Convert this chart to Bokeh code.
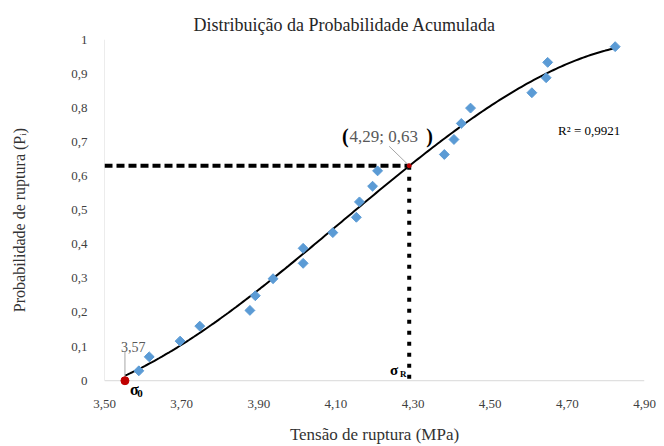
import numpy as np
from bokeh.plotting import figure
from bokeh.models import Range1d, FixedTicker
from bokeh.core.properties import value
from bokeh.embed import file_html
from bokeh.resources import INLINE

# Data
tensao = [3.589, 3.616, 3.696, 3.747, 3.877, 3.891, 3.937, 4.015, 4.015, 4.092, 4.153,
          4.161, 4.195, 4.208, 4.381, 4.406, 4.425, 4.449, 4.608, 4.645, 4.649, 4.824]
prob = [0.029, 0.070, 0.116, 0.160, 0.206, 0.249, 0.299, 0.344, 0.388, 0.434, 0.479,
        0.524, 0.570, 0.615, 0.663, 0.707, 0.754, 0.799, 0.844, 0.888, 0.933, 0.979]
sigma0_x = [3.553]
sigma0_y = [0.0]
sigmaR_x = [4.29]
sigmaR_y = [0.63]
x_ticks = [3.5, 3.7, 3.9, 4.1, 4.3, 4.5, 4.7, 4.9]
x_tick_labels = ["3,50", "3,70", "3,90", "4,10", "4,30", "4,50", "4,70", "4,90"]
y_ticks = [0, 0.1, 0.2, 0.3, 0.4, 0.5, 0.6, 0.7, 0.8, 0.9, 1.0]
y_tick_labels = ["0", "0,1", "0,2", "0,3", "0,4", "0,5", "0,6", "0,7", "0,8", "0,9", "1"]

SERIF = "'Liberation Serif', 'DejaVu Serif', serif"
Y_LOW = -0.058  # room under the axis for the sigma_0 label

p = figure(width=664, height=446, output_backend="svg", toolbar_location=None,
           x_range=Range1d(x_ticks[0], x_ticks[-1]), y_range=Range1d(Y_LOW, y_ticks[-1]),
           min_border_left=104, min_border_right=20, min_border_top=39, min_border_bottom=42)
p.outline_line_color = None
p.grid.visible = False
p.background_fill_color = "white"

p.title.text = "Distribuição da Probabilidade Acumulada"
p.title.align = "left"
p.title.offset = 89
p.title.standoff = 10
p.title.text_font = SERIF
p.title.text_font_style = "normal"
p.title.text_font_size = "18px"
p.title.text_color = "#262626"

p.xaxis.ticker = FixedTicker(ticks=x_ticks)
p.xaxis.major_label_overrides = {t: l for t, l in zip(x_ticks, x_tick_labels)}
p.yaxis.ticker = FixedTicker(ticks=y_ticks)
p.yaxis.major_label_overrides = {t: l for t, l in zip(y_ticks, y_tick_labels)}
for ax in (p.xaxis, p.yaxis):
    ax.axis_line_color = None
    ax.major_tick_line_color = None
    ax.minor_tick_line_color = None
    ax.major_label_text_font = SERIF
    ax.major_label_text_font_size = "13px"
    ax.major_label_text_color = "#404040"
    ax.axis_label_text_font = SERIF
    ax.axis_label_text_font_style = "normal"
    ax.axis_label_text_color = "#333333"
p.xaxis.axis_label = "Tensão de ruptura (MPa)"
p.yaxis.axis_label = "Probabilidade de ruptura (Pᵢ)"
p.xaxis.axis_label_text_font_size = "17px"
p.yaxis.axis_label_text_font_size = "16px"
p.xaxis.major_label_standoff = -7
p.yaxis.major_label_standoff = 11
p.xaxis.axis_label_standoff = 14
p.yaxis.axis_label_standoff = 40

# axis lines (at value 0 and at the start of the x range)
p.segment(x0=[x_ticks[0]], y0=[y_ticks[0]], x1=[x_ticks[-1]], y1=[y_ticks[0]],
          line_color="#d9d9d9", line_width=1)
p.segment(x0=[x_ticks[0]], y0=[y_ticks[0]], x1=[x_ticks[0]], y1=[y_ticks[-1]],
          line_color="#d9d9d9", line_width=1)

# reference lines
p.segment(x0=[x_ticks[0]], y0=sigmaR_y, x1=sigmaR_x, y1=sigmaR_y,
          line_color="black", line_width=4, line_dash="8 4")
p.segment(x0=sigmaR_x, y0=sigmaR_y, x1=sigmaR_x, y1=[0.0],
          line_color="black", line_width=4, line_dash="4 7")

# trend line (cubic fit through the data and sigma0)
fx = np.array(sigma0_x + tensao)
fy = np.array(sigma0_y + prob)
coef = np.polyfit(fx, fy, 3)
cx = np.linspace(sigma0_x[0], tensao[-1], 200)
cy = np.polyval(coef, cx)
p.line(cx, cy, line_color="black", line_width=2)

# data points
p.scatter(tensao, prob, marker="square", angle=np.pi / 4, size=7,
          fill_color="#5b9bd5", line_color="#5b9bd5")

# leader lines
p.segment(x0=sigma0_x, y0=[0.005], x1=sigma0_x, y1=[0.085], line_color="#a6a6a6", line_width=1)
p.segment(x0=sigmaR_x, y0=sigmaR_y, x1=[4.238], y1=[0.687], line_color="#a6a6a6", line_width=1)

# special points
p.scatter(sigma0_x, sigma0_y, marker="circle", size=8, fill_color="#c00000", line_color="#c00000")
p.scatter(sigmaR_x, sigmaR_y, marker="circle", size=4, fill_color="#c00000", line_color="#c00000")


def lab(x, y, text, size, color="black", bold=False):
    p.text(x=[x], y=[y], text=[text], text_font=value(SERIF), text_font_size=size,
           text_color=color, text_font_style="bold" if bold else "normal",
           text_align="left", text_baseline="middle")


lab(3.543, 0.099, "3,57", "14px", "#595959")
lab(4.116, 0.716, "(", "20px", bold=True)
lab(4.135, 0.716, "4,29; 0,63", "17px", "#595959")
lab(4.334, 0.716, ")", "20px", bold=True)
lab(4.676, 0.733, "R² = 0,9921", "13px")
lab(3.566, -0.026, "σ", "16px", bold=True)
lab(3.585, -0.038, "0", "11px", bold=True)
lab(4.240, 0.030, "σ", "15px", bold=True)
lab(4.266, 0.019, "R", "9px", bold=True)

open("out.html", "w").write(file_html(p, INLINE))
